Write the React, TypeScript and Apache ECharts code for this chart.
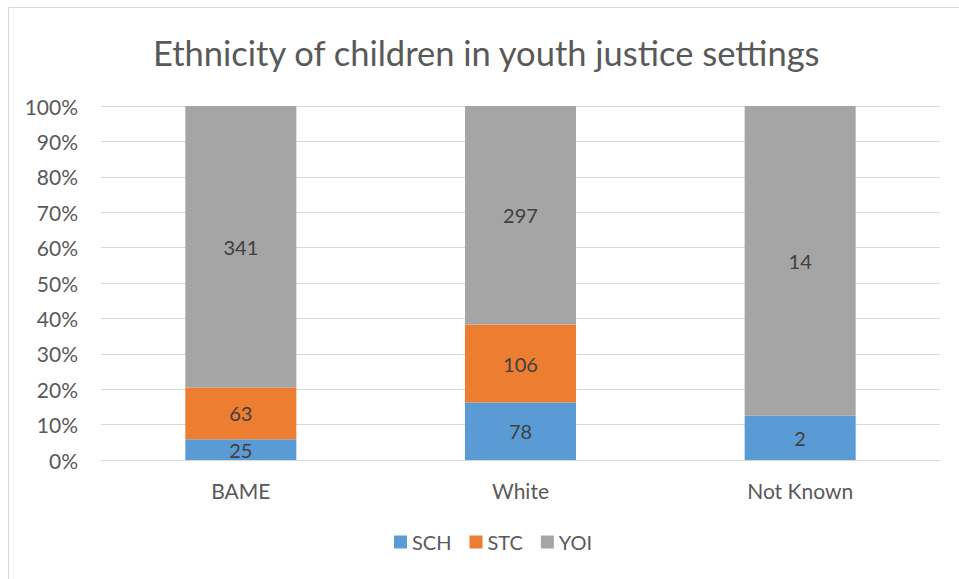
import React, { useEffect, useRef } from "react";
import * as echarts from "echarts";

const categories = ["BAME", "White", "Not Known"];
const seriesNames = ["SCH", "STC", "YOI"];
const sch = [25, 78, 2];
const stc = [63, 106, 0];
const yoi = [341, 297, 14];
const colors = ["#5B9BD5", "#ED7D31", "#A5A5A5"];
const titleText = "Ethnicity of children in youth justice settings";

const FONT = "Lato, 'Open Sans', sans-serif";

export default function App() {
  const ref = useRef<HTMLDivElement>(null);
  useEffect(() => {
    document.body.style.margin = "0";
    document.body.style.overflow = "hidden";
    const chart = echarts.init(ref.current!, null, { renderer: "svg" });
    const raw = [sch, stc, yoi];
    const totals = categories.map((_, i) => sch[i] + stc[i] + yoi[i]);
    const series = seriesNames.map((name, s) => ({
      name,
      type: "bar",
      stack: "total",
      barWidth: "39.7%",
      itemStyle: { color: colors[s] },
      data: raw[s].map((v, i) => ({ value: (v / totals[i]) * 100, raw: v })),
      label: {
        show: true,
        position: "inside",
        color: "#404040",
        fontFamily: FONT,
        fontSize: 20,
        formatter: (p: any) => (p.data.raw ? String(p.data.raw) : ""),
      },
    }));
    chart.setOption({
      animation: false,
      textStyle: { fontFamily: FONT },
      graphic: [
        {
          type: "rect",
          shape: { x: 8.5, y: 7.5, width: 1000, height: 700 },
          style: { fill: "none", stroke: "#D9D9D9", lineWidth: 1 },
          silent: true,
        },
      ],
      title: {
        text: titleText,
        left: 148,
        top: 30,
        textStyle: { fontFamily: FONT, fontSize: 34.5, fontWeight: "normal", color: "#595959" },
      },
      legend: {
        data: seriesNames,
        bottom: 22,
        left: 389,
        icon: "rect",
        itemWidth: 13,
        itemHeight: 13,
        itemGap: 18,
        textStyle: { fontFamily: FONT, fontSize: 20, color: "#595959" },
      },
      grid: { left: 101, right: 19, top: 106, bottom: 119 },
      xAxis: {
        type: "category",
        data: categories,
        axisLine: { show: true, lineStyle: { color: "#D9D9D9", width: 1 } },
        axisTick: { show: false },
        axisLabel: { color: "#595959", fontSize: 21, fontFamily: FONT, margin: 20 },
      },
      yAxis: {
        type: "value",
        min: 0,
        max: 100,
        interval: 10,
        axisLine: { show: false },
        axisTick: { show: false },
        splitLine: { lineStyle: { color: "#D9D9D9", width: 1 } },
        axisLabel: {
          color: "#595959",
          fontSize: 21,
          fontFamily: FONT,
          margin: 23,
          formatter: (v: number) => v + "%",
        },
      },
      series,
    });
    return () => chart.dispose();
  }, []);
  return <div ref={ref} style={{ width: 959, height: 579 }} />;
}
